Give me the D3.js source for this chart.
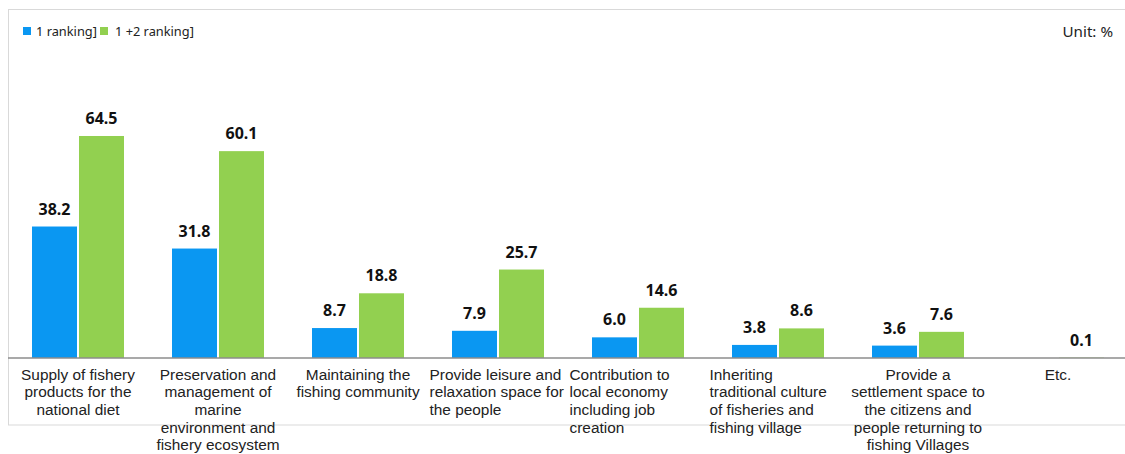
<!DOCTYPE html>
<html>
<head>
<meta charset="utf-8">
<script src="https://cdn.jsdelivr.net/npm/d3@7"></script>
<style>
  html, body { margin: 0; padding: 0; background: #fff; }
  svg { display: block; font-family: "Noto Sans", "Open Sans", sans-serif; }
</style>
</head>
<body>
<svg id="chart" width="1125" height="454"></svg>
<script>
// Category names ("\n" marks the wrapped lines under the axis)
const categories = [
  "Supply of fishery\nproducts for the\nnational diet",
  "Preservation and\nmanagement of\nmarine\nenvironment and\nfishery ecosystem",
  "Maintaining the\nfishing community",
  "Provide leisure and\nrelaxation space for\nthe people",
  "Contribution to\nlocal economy\nincluding job\ncreation",
  "Inheriting\ntraditional culture\nof fisheries and\nfishing village",
  "Provide a\nsettlement space to\nthe citizens and\npeople returning to\nfishing Villages",
  "Etc."
];
// Series names
const seriesNames = ["1 ranking]", "1 +2 ranking]"];
// Share of answers, %
const firstRank = [38.2, 31.8, 8.7, 7.9, 6.0, 3.8, 3.6, null];
const firstSecondRank = [64.5, 60.1, 18.8, 25.7, 14.6, 8.6, 7.6, 0.1];
const unitLabel = "Unit: %";

const colors = ["#0A97F2", "#92D050"];
const labelAnchor = ["middle", "middle", "middle", "start", "start", "start", "middle", "middle"];

const svg = d3.select("#chart");
const baseY = 358;

// outer frame
svg.append("rect")
  .attr("x", 8.5).attr("y", 9.5)
  .attr("width", 1130).attr("height", 415.5)
  .attr("fill", "none").attr("stroke", "#d9d9d9").attr("stroke-width", 1);

const x = d3.scaleBand().domain(d3.range(categories.length)).range([8, 1128]);
const xs = d3.scaleBand().domain([0, 1]).range([24, 116]).paddingInner(2 / 47);
const y = d3.scaleLinear().domain([0, 70]).range([baseY, baseY - 70 * 3.442]);

const series = [firstRank, firstSecondRank];

const groups = svg.append("g").selectAll("g")
  .data(categories.map((c, i) => i))
  .join("g")
  .attr("transform", i => `translate(${x(i)},0)`);

series.forEach((vals, s) => {
  groups.filter(i => vals[i] != null).append("rect")
    .attr("x", xs(s))
    .attr("width", xs.bandwidth())
    .attr("y", i => y(vals[i]))
    .attr("height", i => baseY - y(vals[i]))
    .attr("fill", colors[s]);
  groups.filter(i => vals[i] != null).append("text")
    .attr("x", xs(s) + xs.bandwidth() / 2)
    .attr("y", i => y(vals[i]) - 12)
    .attr("text-anchor", "middle")
    .attr("font-size", 16)
    .attr("font-weight", "bold")
    .attr("fill", "#111")
    .text(i => vals[i].toFixed(1));
});

// category axis
const axis = d3.axisBottom(x).tickSize(0).tickFormat("");
const axisG = svg.append("g").attr("transform", `translate(0,${baseY})`).call(axis);
axisG.select(".domain").attr("stroke", "#8c8c8c").attr("stroke-width", 1.6)
  .attr("d", "M8,0H1125");

// wrapped category labels
axisG.selectAll(".tick").each(function (i) {
  const anchor = labelAnchor[i];
  const lx = anchor === "start" ? -x.bandwidth() / 2 + 1.5 : 0;
  const t = d3.select(this).append("text")
    .attr("fill", "#222")
    .attr("font-size", 15.4)
    .attr("text-anchor", anchor)
    .attr("x", lx);
  categories[i].split("\n").forEach((line, k) => {
    t.append("tspan")
      .attr("x", lx)
      .attr("y", 21.5 + k * 17.7)
      .text(line);
  });
});

// legend
const legend = svg.append("g").attr("transform", "translate(23,26)");
let lx = 0;
seriesNames.forEach((name, s) => {
  legend.append("rect").attr("x", lx).attr("y", 1).attr("width", 8).attr("height", 8).attr("fill", colors[s]);
  legend.append("text")
    .attr("x", lx + (s === 0 ? 13 : 15)).attr("y", 10)
    .attr("font-size", 12.8).attr("fill", "#222").text(name);
  lx += 77;
});

svg.append("text")
  .attr("x", 1113).attr("y", 37)
  .attr("text-anchor", "end")
  .attr("font-size", 15.2).attr("fill", "#222")
  .text(unitLabel);
</script>
</body>
</html>
